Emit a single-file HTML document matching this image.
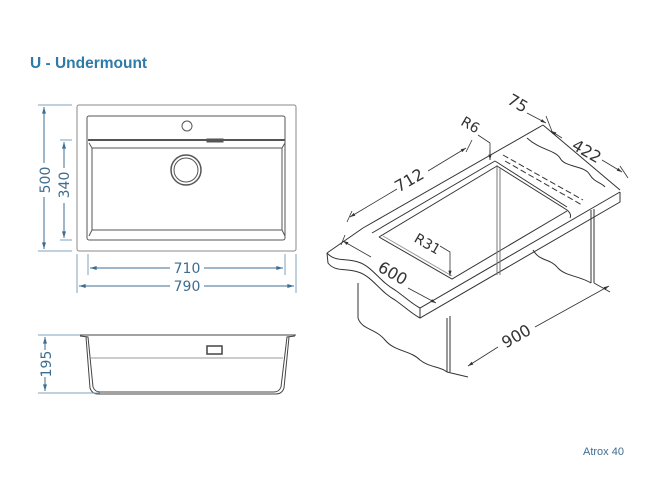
<!DOCTYPE html>
<html><head><meta charset="utf-8"><style>
html,body{margin:0;padding:0;background:#fff;width:650px;height:500px;overflow:hidden}
svg{display:block}
text{font-family:"DejaVu Sans","Liberation Sans",sans-serif}
</style></head><body>
<svg width="650" height="500" viewBox="0 0 650 500" xmlns="http://www.w3.org/2000/svg">
<defs>
<marker id="ab" viewBox="0 0 10 6" refX="10" refY="3" markerWidth="7" markerHeight="4" orient="auto-start-reverse"><path d="M0,0L10,3L0,6z" fill="#3d6d90"/></marker>
<marker id="ag" viewBox="0 0 10 6" refX="10" refY="3" markerWidth="7" markerHeight="4" orient="auto-start-reverse"><path d="M0,0L10,3L0,6z" fill="#333"/></marker>
</defs>
<text x="30" y="68" font-family="Liberation Sans" font-weight="bold" font-size="15.5" fill="#2e7aa8" style="font-family:'Liberation Sans',sans-serif">U - Undermount</text>

<!-- top view -->
<g fill="none" stroke="#555" stroke-width="1">
<rect x="77" y="105" width="219" height="146" rx="2" stroke="#888"/>
<rect x="87" y="116" width="198" height="124" rx="2"/>
<path d="M88,140 H285" stroke-width="2"/>
<path d="M89,143 L92,148 H282 L285,143" />
<path d="M92,148 L92,230 M282,148 L282,230"/>
<path d="M92,230 L89,236 M282,230 L285,236"/>
<path d="M92,230 H282"/>
<circle cx="187" cy="126" r="5"/>
<circle cx="186" cy="170" r="15" stroke-width="1.5"/>
<circle cx="186" cy="170" r="12"/>
<rect x="207" y="139" width="16" height="3" fill="#555"/>
</g>
<g stroke="#7fa3bd" stroke-width="1" fill="none">
<path d="M38,105 H72 M38,251 H72 M60,140 H72 M60,240 H72"/>
<path d="M88,254 V275 M285,254 V275 M77,254 V293 M296,254 V293"/>
</g>
<g stroke="#3d6d90" stroke-width="1" fill="none">
<path d="M44,107 V163 M44,197 V249" marker-start="url(#ab)" marker-end="none"/>
<path d="M44,197 V249" marker-end="url(#ab)"/>
<path d="M64,142 V168 M64,203 V238"/>
<path d="M64,168 V142" marker-end="url(#ab)"/>
<path d="M64,203 V238" marker-end="url(#ab)"/>
<path d="M170,268 H90" marker-end="url(#ab)"/>
<path d="M204,268 H283" marker-end="url(#ab)"/>
<path d="M170,286 H79" marker-end="url(#ab)"/>
<path d="M204,286 H294" marker-end="url(#ab)"/>
</g>
<g fill="#3d6d90" font-size="14" text-anchor="middle">
<text x="187" y="273">710</text>
<text x="187" y="291">790</text>
<text transform="translate(50,180) rotate(-90)">500</text>
<text transform="translate(69,185) rotate(-90)">340</text>
<text transform="translate(51,364) rotate(-90)">195</text>
</g>

<!-- side view -->
<g fill="none" stroke="#444" stroke-width="1">
<path d="M78,335 H296"/>
<path d="M80,336 L88,337 L93,387 Q95,392 100,392 H274 Q279,392 281,387 L287,337 L295,336"/>
<path d="M86,337 L90,388 Q92,394 98,394 H276 Q282,394 284,388 L289,337"/>
<path d="M91,358 H283" stroke="#999"/>
<rect x="207" y="346" width="15" height="8" stroke-width="1.5"/>
</g>
<g stroke="#7fa3bd" fill="none">
<path d="M38,335 H80 M38,393 H100"/>
</g>
<g stroke="#3d6d90" fill="none">
<path d="M45,350 V337" marker-end="url(#ab)"/>
<path d="M45,377 V391" marker-end="url(#ab)"/>
</g>

<!-- iso view -->
<g fill="none" stroke="#333" stroke-width="1">
<path d="M363,228 L543,125"/>
<path d="M327,253 L363,228"/>
<path d="M327,253 C335,262 345,258 358,262 C372,266 380,282 395,290 C405,297 412,304 420,308 L620,192"/>
<path d="M327,253 L328,263 C335,272 345,268 358,272 C372,276 380,292 395,300 C405,307 412,314 420,318 L620,202 L620,192"/>
<path d="M420,308 L420,318"/>
<path d="M543,125 L620,190"/>
<path d="M527,138 C540,150 555,150 560,158 C565,168 585,165 590,175 C594,182 602,183 605,187"/>
<path d="M372,233 L495,161 M379,237 L497,166"/>
<path d="M379,237 L452,279 L567,211"/>
<path d="M383,236 L452,276" stroke="#999"/>
<path d="M495,161 L567,207"/>
<path d="M497,166 L567,210 Q572,214 570,218"/>
<path d="M497,165 V275 M500,168 V275" stroke="#777"/>
<path d="M503,155 L583,200 M505,161 L582,205" stroke-dasharray="6,3"/>
<path d="M358,283 V318 C362,330 375,328 385,340 C395,352 410,350 420,360 C430,368 440,366 447,372"/>
<path d="M447,318 V372 M450,316 V372"/>
<path d="M591,210 V283 M594,209 V283"/>
<path d="M533,250 C540,262 550,258 558,268 C565,276 580,276 591,283"/>
<path d="M447,372 L468,377"/>
<path d="M594,283 L610,292"/>
</g>
<g stroke="#333" stroke-width="0.8" fill="none">
<path d="M397,189 L350,217" marker-end="url(#ag)"/>
<path d="M428,171 L466,148" marker-end="url(#ag)"/>
<path d="M347,222 L352,211 M466,152 L472,140"/>
<path d="M371,257 L343,241" marker-end="url(#ag)"/>
<path d="M408,288 L436,303" marker-end="url(#ag)"/>
<path d="M341,245 L345,235"/>
<path d="M535,327 L609,286" marker-end="url(#ag)"/>
<path d="M498,347 L468,366" marker-end="url(#ag)"/>
<path d="M527,113 L546,123" marker-end="url(#ag)"/>
<path d="M562,138 L551,131" marker-end="url(#ag)"/>
<path d="M602,160 L622,172" marker-end="url(#ag)"/>
<path d="M546,116 L553,134 M620,166 L628,178"/>
<path d="M478,135 L490,143 V160"/>
<path d="M490,150 V160" marker-end="url(#ag)"/>
<path d="M440,246 L450,252 V276" marker-end="url(#ag)"/>
</g>
<g fill="#333" font-size="16" text-anchor="middle">
<text transform="translate(412,185) rotate(-30)">712</text>
<text transform="translate(390,278) rotate(30)">600</text>
<text transform="translate(519,341) rotate(-30)">900</text>
<text transform="translate(515,108) rotate(30)">75</text>
<text transform="translate(584,156) rotate(30)">422</text>
<text transform="translate(468,129) rotate(30)" font-size="14">R6</text>
<text transform="translate(425,248) rotate(30)" font-size="14">R31</text>
</g>
<text x="583" y="455" font-size="11" fill="#3d6d90" style="font-family:'Liberation Sans',sans-serif">Atrox 40</text>
</svg>
</body></html>
